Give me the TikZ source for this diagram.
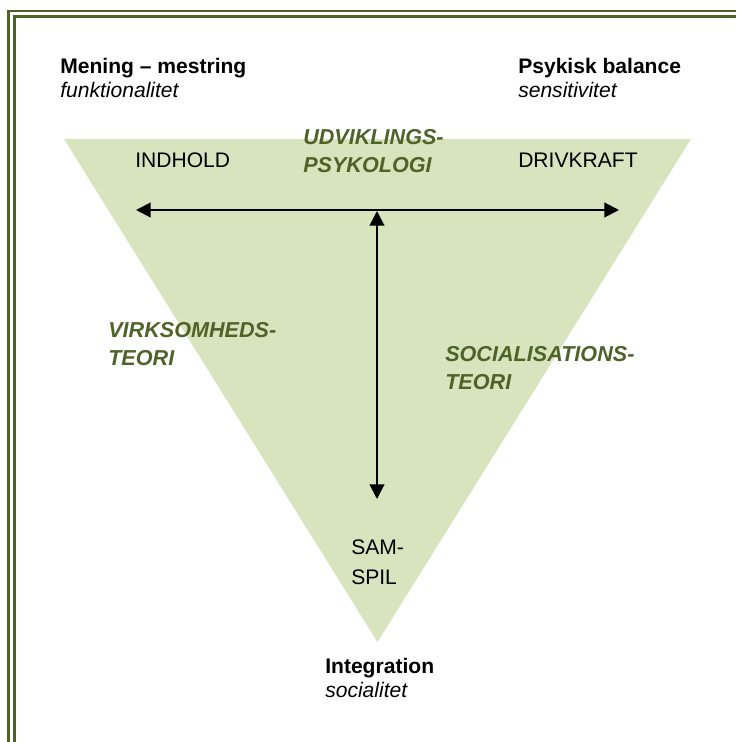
\documentclass[tikz,border=0pt]{standalone}
\usepackage{fontspec}
\setmainfont{Liberation Sans}
\usetikzlibrary{arrows.meta}
\definecolor{olivedark}{HTML}{4F6228}
\definecolor{olivelight}{HTML}{D7E4BD}
\tikzset{
    pole/.style={anchor=west,inner sep=0pt,align=left,font=\fontsize{15.8}{18.5}\selectfont},
    corner/.style={anchor=west,inner sep=0pt,font=\fontsize{15.8}{18}\selectfont},
    theory/.style={anchor=west,inner sep=0pt,align=left,text=olivedark,font=\fontsize{16.2}{20.5}\selectfont\bfseries\itshape},
    axis/.style={line width=1.5pt,{Triangle[length=11pt,width=11pt]}-{Triangle[length=11pt,width=11pt]}}
}
\begin{document}
\begin{tikzpicture}[x=0.75pt,y=-0.75pt]
        \useasboundingbox (0,0) rectangle (736,742);
        %% Frame
        \draw[olivedark,line width=1.9pt] (8.5,742) -- (8.5,11) -- (736,11);
        \draw[olivedark,line width=1.9pt] (14.5,742) -- (14.5,16.5) -- (736,16.5);
        %% Triangle
        \fill[olivelight] (64,139) -- (691,139) -- (377.5,642) -- cycle;
        %% Poles
        \node[pole] (mening) at (60,78) {\textbf{Mening -- mestring}\\\textit{funktionalitet}};
        \node[pole] (psykisk) at (518,78) {\textbf{Psykisk balance}\\\textit{sensitivitet}};
        \node[pole] (integration) at (325,678) {\textbf{Integration}\\\textit{socialitet}};
        %% Corners
        \node[corner] (indhold) at (135,160) {INDHOLD};
        \node[corner] (drivkraft) at (518,160) {DRIVKRAFT};
        \node[pole] (samspil) at (351,562) {SAM-\\[4pt]SPIL};
        %% Theories
        \node[theory] (udvikling) at (303,151) {UDVIKLINGS-\\PSYKOLOGI};
        \node[theory] (virksomhed) at (108,344) {VIRKSOMHEDS-\\TEORI};
        \node[theory] (socialisation) at (445,368) {SOCIALISATIONS-\\TEORI};
        %% Arrows
        \coordinate (left) at (136,210);
        \coordinate (right) at (619,210);
        \coordinate (centre) at (377,211);
        \coordinate (bottom) at (377,499);
        \draw[axis] (left) -- (right);
        \draw[axis] (bottom) -- (centre);
    \end{tikzpicture}
\end{document}
